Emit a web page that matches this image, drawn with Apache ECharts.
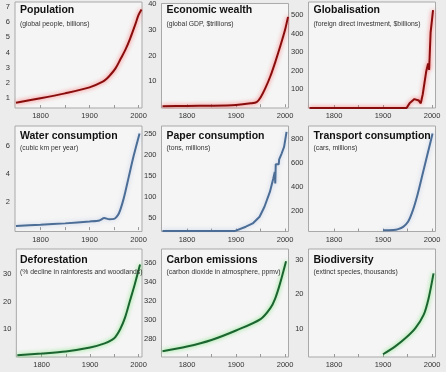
<!DOCTYPE html>
<html><head><meta charset="utf-8">
<script src="https://cdn.jsdelivr.net/npm/echarts@6/dist/echarts.min.js"></script>
<style>html,body{margin:0;padding:0;background:#ececec;}#c{width:446px;height:372px;}</style>
</head><body><div id="c"></div>
<script>
// ---- data ----
const titles = ['Population','Economic wealth','Globalisation','Water consumption','Paper consumption','Transport consumption','Deforestation','Carbon emissions','Biodiversity'];
const subtitles = ['(global people, billions)','(global GDP, $trillions)','(foreign direct investment, $billions)','(cubic km per year)','(tons, millions)','(cars, millions)','(% decline in rainforests and woodlands)','(carbon dioxide in atmosphere, ppmv)','(extinct species, thousands)'];
const xTickLabels = [1800,1900,2000];
const xTickMarks = [1800,1850,1900,1950,2000];
const populationData = [[1750,0.67],[1800,0.96],[1850,1.29],[1900,1.69],[1927,2.07],[1936,2.3],[1942,2.5],[1953,2.95],[1963,3.55],[1973,4.17],[1983,4.94],[1993,5.83],[2000,6.49],[2006,6.85]];
const wealthData = [[1750,0.4],[1800,0.5],[1850,0.6],[1900,0.9],[1930,1.5],[1942,2.0],[1950,3.8],[1960,7.5],[1970,12],[1980,17.5],[1990,23.5],[2000,30],[2006,35]];
const globalisationData = [[1750,0],[1800,0],[1850,0],[1900,0],[1948,0],[1954,25],[1964,48],[1968,57],[1973,40],[1977,25],[1981,74],[1988,196],[1992,240],[1994,205],[1997,405],[2002,526]];
const waterData = [[1750,0.29],[1800,0.38],[1850,0.48],[1900,0.62],[1920,0.69],[1930,0.86],[1940,0.78],[1950,0.8],[1960,1.2],[1970,2.3],[1980,3.8],[1990,5.3],[2002,6.9]];
const paperData = [[1750,18],[1800,18],[1850,18],[1897,18],[1900,20.6],[1920,28.5],[1934,36.4],[1948,52.4],[1958,76.3],[1969,112],[1976,144],[1979,160],[1980,132],[1981,178],[1987,178],[1988,190],[1993,204],[1998,220],[2003,256]];
const transportData = [[1900,40],[1921,42],[1931,50],[1941,69],[1951,111],[1961,208],[1971,347],[1981,513],[1991,680],[2001,847]];
const deforestationData = [[1750,0.65],[1800,1.25],[1850,2.0],[1900,3.4],[1930,4.9],[1945,6.2],[1952,7.2],[1962,10],[1972,14.2],[1982,20.2],[1992,26.2],[2003,33.4]];
const carbonData = [[1750,267],[1800,272],[1850,279],[1900,289],[1950,301],[1970,312.6],[1980,323],[1990,339],[2002,362]];
const biodiversityData = [[1900,2.6],[1925,4.9],[1946,7.3],[1966,10.2],[1983,14.1],[1993,18.9],[2003,26.1]];
const yTickLabels = [[1,2,3,4,5,6,7],[10,20,30,40],[100,200,300,400,500],[2,4,6],[50,100,150,200,250],[200,400,600,800],[10,20,30],[280,300,320,340,360],[10,20,30]];
const seriesData = [populationData,wealthData,globalisationData,waterData,paperData,transportData,deforestationData,carbonData,biodiversityData];

// ---- layout / style ----
const yRanges = [[0.32,7.35],[-0.3,40.2],[0,570],[-0.1,7.43],[17,270],[30,910],[0,39],[261,375],[1.8,33.2]];
const colLeft = [15,161.5,308.5], colWidth = 127;
const rowTop = [2,126,249], rowHeight = [106,105.5,108], titleOff = [2.5,4.5,6];
const subGap = [5,3,2.5];
const palette = {
  red:{c:'#8a0d0d',s:'rgba(255,70,70,0.85)'},
  blue:{c:'#4c6d95',s:'rgba(140,170,220,0.5)'},
  green:{c:'#1b6530',s:'rgba(90,225,90,0.85)'}
};
const panelColor = ['red','red','red','blue','blue','blue','green','green','green'];
const smoothFlag = [0.3,0.3,false,0.25,false,0.3,0.3,0.3,0.3];
const FONT = "'Liberation Sans',Arial,sans-serif";

const grid=[],xAxis=[],yAxis=[],series=[],title=[];
for(let i=0;i<9;i++){
  const r=Math.floor(i/3), c=i%3;
  const top=rowTop[r], left=colLeft[c];
  grid.push({left:left,top:top,width:colWidth,height:rowHeight[r],show:true,backgroundColor:'#f5f5f5',borderColor:'#a9a9a9',borderWidth:1});
  xAxis.push({type:'value',gridIndex:i,min:1748,max:2007,
    axisLine:{show:false},splitLine:{show:false},
    axisTick:{show:true,inside:true,length:3,customValues:xTickMarks,lineStyle:{color:'#999'}},
    axisLabel:{customValues:xTickLabels,margin:4,fontSize:7.5,color:'#333',fontFamily:FONT,formatter:v=>String(v)}});
  yAxis.push({type:'value',gridIndex:i,min:yRanges[i][0],max:yRanges[i][1],
    axisLine:{show:false},splitLine:{show:false},axisTick:{show:false},
    axisLabel:{customValues:yTickLabels[i],margin:5,fontSize:7.5,color:'#333',fontFamily:FONT,formatter:v=>String(v)}});
  const p=palette[panelColor[i]];
  series.push({type:'line',xAxisIndex:i,yAxisIndex:i,data:seriesData[i],showSymbol:false,smooth:smoothFlag[i],
    lineStyle:{color:p.c,width:2,shadowColor:p.s,shadowBlur:4},silent:true});
  title.push({text:titles[i],subtext:subtitles[i],left:left+5,top:top+titleOff[r],padding:0,itemGap:subGap[r],
    textStyle:{fontFamily:FONT,fontSize:10.5,fontWeight:'bold',color:'#111'},
    subtextStyle:{fontFamily:FONT,fontSize:6.8,color:'#333'}});
}
const chart=echarts.init(document.getElementById('c'),null,{renderer:'canvas'});
chart.setOption({animation:false,backgroundColor:'#ececec',title,grid,xAxis,yAxis,series});
</script></body></html>
